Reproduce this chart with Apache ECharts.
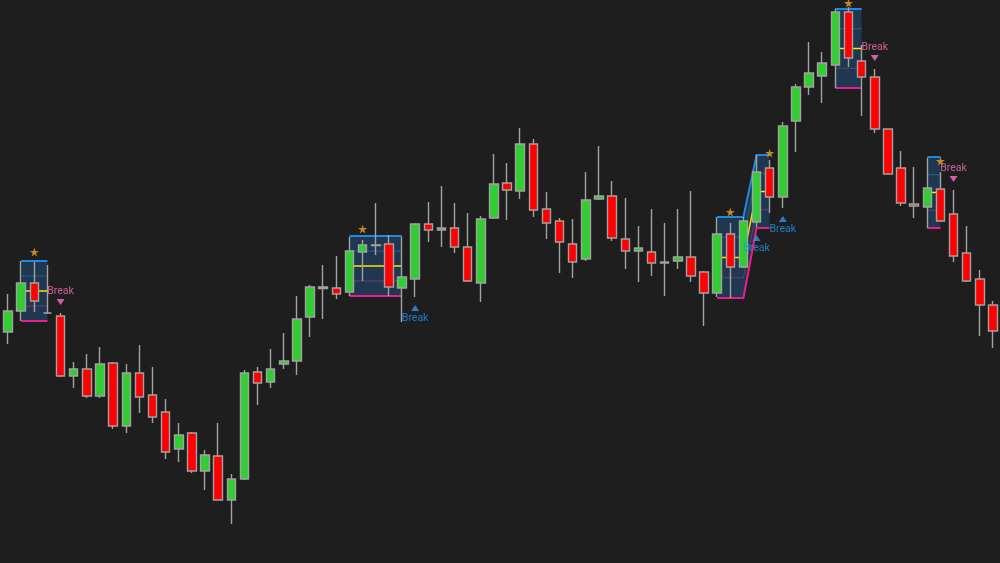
<!DOCTYPE html>
<html><head><meta charset="utf-8">
<script src="https://cdn.jsdelivr.net/npm/echarts@6/dist/echarts.min.js"></script>
<style>html,body{margin:0;padding:0;background:#1e1e1e;}#c{width:1000px;height:563px;}</style>
</head><body><div id="c"></div><script>
// Candle values (price units)
const candleOpen  = [231,252,280,250,247,187,194,167,200,137,190,168,151,114,130,92,107,63,84,191,181,199,202,246,276,275,271,311,317.5,319,275,284,339,333,335,316,280,345,380,372,419,354,342,319,304,364,367,324,312,311,300,302,306,291,270,329,296,341,395,366,442,476,487,498,551,502,486,434,395,359,356,374,349,310,284,258];
const candleClose = [252,280,262,250,187,194,167,199,137,190,166,146,111,128,92,108,63,84,190,180,194,202,244,276,274.5,269,312,318,318,276,286,339,333,335,316,282,344,379,373,419,353,340,321,301,363,367,325,312,315,300,301,306,287,270,329,296,342,391,366,437,476,490,500,551,505,486,434,389,360,357,375,342,307,282,258,232];
const candleLow   = [219,242,251,249,186,175,165,165,134,130,150,140,104,101,90,73,63,39,83,158,175,194,188,226,244,264,267,282,308,267,241,266,321,316,310,281,261,344,343,364,346,324,290,285,302,363,322,294,281,287,267,294,281,237,266,265,295,336,350,355,411,468,460,475,496,447,430,389,357,345,335,341,301,281,227,215];
const candleHigh  = [269,302,301,298,250,201,209,216,201,199,218,196,164,140,131,113,140,89,193,196,214,230,267,278,298,307,326,323,360,328,326,340,361,377,360,350,347,409,400,435,424,371,345,344,391,417,382,365,337,354,340,354,372,292,346,340,346,408,403,441,479,521,511,554,556,518,494,434,412,396,405,391,373,337,293,262];

// Consolidation boxes
const boxFrom = [1, 26, 54, 57, 63, 70];
const boxTo   = [3, 30, 56, 58, 65, 71];
const boxHigh = [302, 327, 346, 408, 554, 406];
const boxLow  = [242, 267, 265, 335, 475, 335];
const boxLinkedToPrev = [0, 0, 0, 1, 0, 0];

// Stars
const starIdx = [2, 27, 55, 58, 64, 71];
const starVal = [311, 334, 351, 410, 560, 402];

// Breaks
const bearIdx = [4, 66, 72];
const bearVal = [261, 505, 384];
const bullIdx = [31, 57, 59];
const bullVal = [255, 325, 344];

const categories = candleOpen.map((_, i) => String(i));
const candles = candleOpen.map((o, i) => [o, candleClose[i], candleLow[i], candleHigh[i]]);

const chains = [];
boxFrom.forEach((_, i) => {
  if (boxLinkedToPrev[i] && chains.length) chains[chains.length - 1].push(i);
  else chains.push([i]);
});

function renderBox(params, api) {
  const chain = chains[params.dataIndex];
  const lvl = (b, q) => boxLow[b] + (boxHigh[b] - boxLow[b]) * q;
  const pts = q => {
    const p = [];
    chain.forEach(b => { p.push(api.coord([boxFrom[b], lvl(b, q)])); p.push(api.coord([boxTo[b], lvl(b, q)])); });
    return p;
  };
  const top = pts(1), bot = pts(0);
  const pl = (points, stroke, w) => ({ type: 'polyline', shape: { points }, style: { stroke, lineWidth: w, fill: null } });
  return {
    type: 'group',
    children: [
      { type: 'polygon', shape: { points: top.concat(bot.slice().reverse()) }, style: { fill: 'rgba(35,105,175,0.34)' } },
      pl(pts(0.75), 'rgba(60,140,220,0.45)', 1),
      pl(pts(0.25), 'rgba(200,70,150,0.45)', 1),
      pl(pts(0.5), '#ffe600', 1.5),
      pl(top, '#1e88e5', 2),
      pl(bot, '#e91e8c', 2)
    ]
  };
}

const starPath = 'path://M50,0 L61,35 L98,35 L68,57 L79,91 L50,70 L21,91 L32,57 L2,35 L39,35 Z';
const downTri = 'path://M0,0 L10,0 L5,8 Z';

const chart = echarts.init(document.getElementById('c'));
chart.setOption({
  backgroundColor: '#1e1e1e',
  animation: false,
  grid: { left: 1.5, right: 0.5, top: 0, bottom: 0 },
  xAxis: { type: 'category', data: categories, show: false, boundaryGap: true },
  yAxis: { type: 'value', min: 0, max: 563, show: false },
  series: [
    {
      type: 'custom', z: 1, silent: true, clip: false,
      renderItem: renderBox,
      encode: { x: 0, y: 1 },
      data: chains.map(c => [boxFrom[c[0]], boxHigh[c[0]]])
    },
    {
      type: 'candlestick', z: 3, barWidth: 9,
      data: candles,
      itemStyle: { color: '#32cd32', color0: '#ff0000', borderColor: '#a2a2a2', borderColor0: '#a2a2a2', borderWidth: 1.4 }
    },
    {
      type: 'scatter', z: 5, symbol: starPath, symbolSize: 9,
      itemStyle: { color: '#eba21c' },
      data: starIdx.map((x, i) => [x, starVal[i]])
    },
    {
      type: 'scatter', z: 5, symbol: downTri, symbolSize: [8, 6],
      itemStyle: { color: '#ff6ec7' },
      label: { show: true, formatter: 'Break', position: 'top', distance: 2, color: '#f472b6', fontSize: 10.5, fontFamily: 'Roboto, sans-serif' },
      data: bearIdx.map((x, i) => [x, bearVal[i]])
    },
    {
      type: 'scatter', z: 5, symbol: 'triangle', symbolSize: [8, 6],
      itemStyle: { color: '#2f95f0' },
      label: { show: true, formatter: 'Break', position: 'bottom', distance: 2, color: '#2196f3', fontSize: 10.5, fontFamily: 'Roboto, sans-serif' },
      data: bullIdx.map((x, i) => [x, bullVal[i]])
    }
  ]
});
</script></body></html>
